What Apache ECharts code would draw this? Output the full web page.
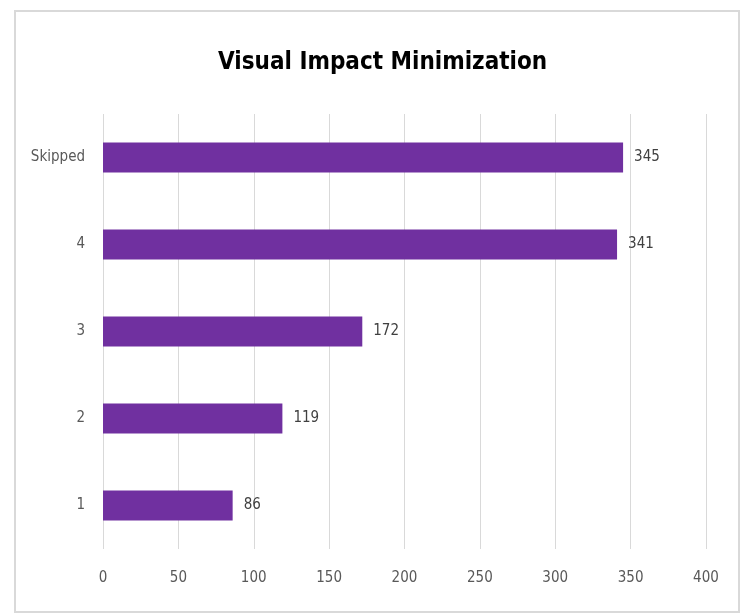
<!DOCTYPE html>
<html>
<head>
<meta charset="utf-8">
<script src="https://cdn.jsdelivr.net/npm/echarts@6/dist/echarts.min.js"></script>
<style>
  html, body { margin: 0; padding: 0; background: #fff; }
  #barChart { width: 743px; height: 614px; }
</style>
</head>
<body>
<div id="barChart"></div>
<script>
// categories listed bottom to top
const categories = ['1', '2', '3', '4', 'Skipped']
const responses = [86, 119, 172, 341, 345]
const xTicks = [0, 50, 100, 150, 200, 250, 300, 350, 400]

const narrow = '"DejaVu Sans Condensed", "Liberation Sans Narrow", sans-serif'

const myChart = echarts.init(document.getElementById('barChart'))

const option = {
  animation: false,
  backgroundColor: '#fff',
  title: {
    text: 'Visual Impact Minimization',
    left: 213,
    top: 46,
    textStyle: {
      fontFamily: narrow,
      fontWeight: 'bold',
      fontSize: 24,
      color: '#000'
    }
  },
  graphic: [
    {
      type: 'rect',
      shape: { x: 15, y: 11, width: 724, height: 601 },
      style: { fill: 'none', stroke: '#d9d9d9', lineWidth: 2 },
      silent: true
    }
  ],
  grid: {
    left: 103,
    right: 37,
    top: 114,
    bottom: 65
  },
  xAxis: {
    type: 'value',
    min: xTicks[0],
    max: xTicks[xTicks.length - 1],
    interval: 50,
    axisLine: { show: false },
    axisTick: { show: false },
    axisLabel: {
      margin: 22,
      color: '#595959',
      fontFamily: narrow,
      fontSize: 15
    },
    splitLine: {
      show: true,
      lineStyle: { color: '#d9d9d9', width: 1 }
    }
  },
  yAxis: {
    type: 'category',
    data: categories,
    axisLine: { show: false },
    axisTick: { show: false },
    axisLabel: {
      margin: 18,
      color: '#595959',
      fontFamily: narrow,
      fontSize: 15
    }
  },
  series: [
    {
      type: 'bar',
      data: responses,
      barWidth: 30,
      itemStyle: { color: '#7030A0' },
      label: {
        show: true,
        position: 'right',
        distance: 11,
        color: '#404040',
        fontFamily: narrow,
        fontSize: 15
      }
    }
  ]
}
myChart.setOption(option)
</script>
</body>
</html>
